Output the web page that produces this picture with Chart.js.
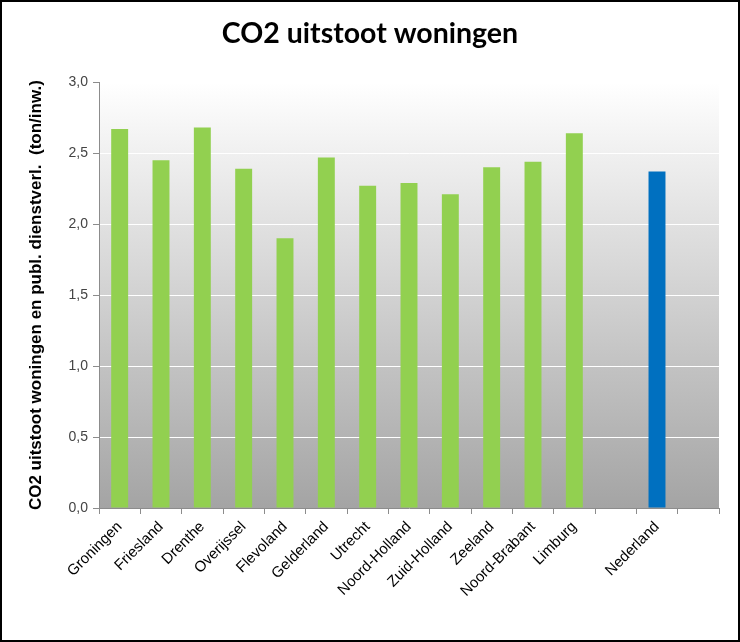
<!DOCTYPE html>
<html>
<head>
<meta charset="utf-8">
<script src="https://cdn.jsdelivr.net/npm/chart.js@4"></script>
<style>
  html, body { margin: 0; padding: 0; background: #fff; }
  #wrap { width: 740px; height: 642px; position: relative; }
</style>
</head>
<body>
<div id="wrap"><canvas id="co2Chart"></canvas></div>
<script>
// ─── DATA ───
const REGIONS = ['Groningen', 'Friesland', 'Drenthe', 'Overijssel', 'Flevoland', 'Gelderland',
  'Utrecht', 'Noord-Holland', 'Zuid-Holland', 'Zeeland', 'Noord-Brabant', 'Limburg', '', 'Nederland', ''];
const CO2_PER_INW = [2.67, 2.45, 2.68, 2.39, 1.90, 2.47, 2.27, 2.29, 2.21, 2.40, 2.44, 2.64, null, 2.37, null];
const Y_TICKS = [0, 0.5, 1.0, 1.5, 2.0, 2.5, 3.0];

const GREEN = '#92d050';
const BLUE = '#0070c0';

// gradient plot background + outer frame
const frame = {
  id: 'frame',
  beforeDraw(chart) {
    const { ctx, chartArea: a } = chart;
    const g = ctx.createLinearGradient(0, a.top, 0, a.bottom);
    g.addColorStop(0, '#ffffff');
    g.addColorStop(1, '#a4a4a4');
    ctx.save();
    ctx.fillStyle = g;
    ctx.fillRect(a.left, a.top, a.right - a.left, a.bottom - a.top);
    ctx.restore();
  },
  afterDraw(chart) {
    const { ctx, width, height } = chart;
    ctx.save();
    ctx.strokeStyle = '#000';
    ctx.lineWidth = 2;
    ctx.strokeRect(1, 1, width - 2, height - 2);
    ctx.restore();
  },
};

new Chart(document.getElementById('co2Chart'), {
  type: 'bar',
  data: {
    labels: REGIONS,
    datasets: [{
      data: CO2_PER_INW,
      backgroundColor: REGIONS.map(r => r === 'Nederland' ? BLUE : GREEN),
      barPercentage: 0.41,
      categoryPercentage: 1,
    }],
  },
  options: {
    responsive: true, maintainAspectRatio: false, animation: false,
    layout: { padding: { left: 21, right: 21, top: 0, bottom: 0 } },
    plugins: {
      legend: { display: false },
      tooltip: { enabled: false },
      title: {
        display: true, text: 'CO2 uitstoot woningen', color: '#000',
        font: { family: 'Lato', size: 28.5, weight: 'bold' },
        padding: { top: 17, bottom: 31 },
      },
    },
    scales: {
      x: {
        grid: { offset: true, drawOnChartArea: false, tickColor: '#8c8c8c', tickLength: 6 },
        border: { color: '#8c8c8c' },
        ticks: {
          color: '#000', font: { family: 'Liberation Sans', size: 15 },
          minRotation: 45, maxRotation: 45, autoSkip: false, padding: 4,
        },
        afterFit: s => { s.height = 134; },
      },
      y: {
        min: 0, max: 3,
        afterBuildTicks: s => { s.ticks = Y_TICKS.map(v => ({ value: v })); },
        grid: { color: '#ffffff', lineWidth: 1, tickColor: '#8c8c8c', tickLength: 6 },
        border: { color: '#8c8c8c' },
        ticks: {
          color: '#444', font: { family: 'Liberation Sans', size: 14 }, padding: 5,
          callback: v => v.toFixed(1).replace('.', ','),
        },
        title: {
          display: true, text: 'CO2 uitstoot woningen en publ. dienstverl.  (ton/inw.)',
          color: '#000', font: { family: 'Liberation Sans', size: 17, weight: 'bold' },
          padding: { top: 5, bottom: 0 },
        },
        afterFit: s => { s.width = 78; },
      },
    },
  },
  plugins: [frame],
});
</script>
</body>
</html>
